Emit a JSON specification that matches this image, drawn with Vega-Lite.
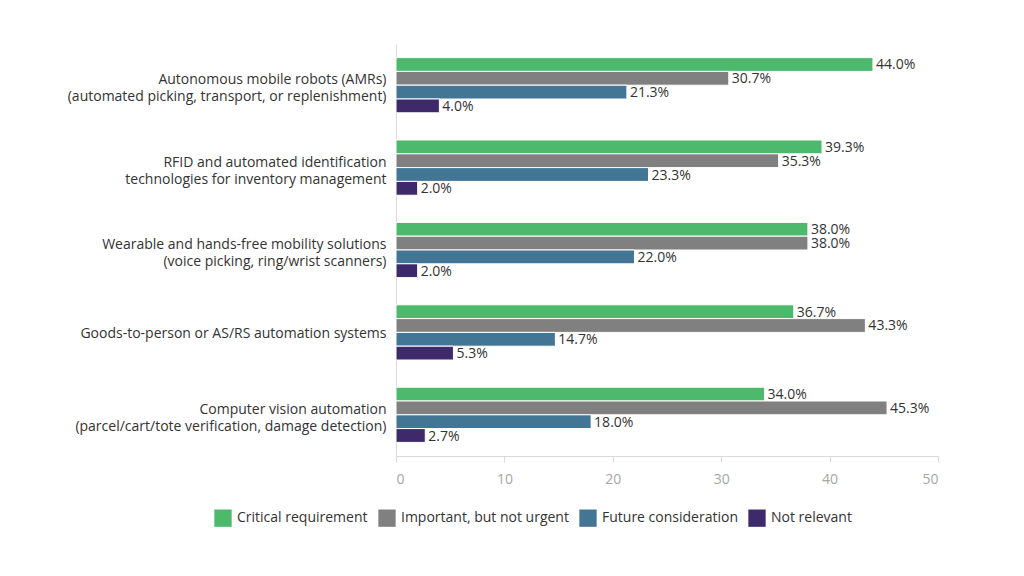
{
  "$schema": "https://vega.github.io/schema/vega-lite/v6.json",
  "autosize": {"type": "none"},
  "width": 542,
  "height": 412,
  "padding": {"left": 396, "top": 44, "right": 86, "bottom": 120},
  "background": "white",
  "config": {
    "font": "Open Sans",
    "view": {"stroke": null}
  },
  "data": {
    "values": [
      {"category": "Autonomous mobile robots (AMRs)|(automated picking, transport, or replenishment)", "series": "Critical requirement", "value": 44.0},
      {"category": "Autonomous mobile robots (AMRs)|(automated picking, transport, or replenishment)", "series": "Important, but not urgent", "value": 30.7},
      {"category": "Autonomous mobile robots (AMRs)|(automated picking, transport, or replenishment)", "series": "Future consideration", "value": 21.3},
      {"category": "Autonomous mobile robots (AMRs)|(automated picking, transport, or replenishment)", "series": "Not relevant", "value": 4.0},
      {"category": "RFID and automated identification |technologies for inventory management", "series": "Critical requirement", "value": 39.3},
      {"category": "RFID and automated identification |technologies for inventory management", "series": "Important, but not urgent", "value": 35.3},
      {"category": "RFID and automated identification |technologies for inventory management", "series": "Future consideration", "value": 23.3},
      {"category": "RFID and automated identification |technologies for inventory management", "series": "Not relevant", "value": 2.0},
      {"category": "Wearable and hands-free mobility solutions |(voice picking, ring/wrist scanners)", "series": "Critical requirement", "value": 38.0},
      {"category": "Wearable and hands-free mobility solutions |(voice picking, ring/wrist scanners)", "series": "Important, but not urgent", "value": 38.0},
      {"category": "Wearable and hands-free mobility solutions |(voice picking, ring/wrist scanners)", "series": "Future consideration", "value": 22.0},
      {"category": "Wearable and hands-free mobility solutions |(voice picking, ring/wrist scanners)", "series": "Not relevant", "value": 2.0},
      {"category": "Goods-to-person or AS/RS automation systems", "series": "Critical requirement", "value": 36.7},
      {"category": "Goods-to-person or AS/RS automation systems", "series": "Important, but not urgent", "value": 43.3},
      {"category": "Goods-to-person or AS/RS automation systems", "series": "Future consideration", "value": 14.7},
      {"category": "Goods-to-person or AS/RS automation systems", "series": "Not relevant", "value": 5.3},
      {"category": "Computer vision automation |(parcel/cart/tote verification, damage detection)", "series": "Critical requirement", "value": 34.0},
      {"category": "Computer vision automation |(parcel/cart/tote verification, damage detection)", "series": "Important, but not urgent", "value": 45.3},
      {"category": "Computer vision automation |(parcel/cart/tote verification, damage detection)", "series": "Future consideration", "value": 18.0},
      {"category": "Computer vision automation |(parcel/cart/tote verification, damage detection)", "series": "Not relevant", "value": 2.7}
    ]
  },
  "encoding": {
    "y": {
      "field": "category",
      "type": "nominal",
      "sort": null,
      "scale": {"paddingInner": 0.33, "paddingOuter": 0.165},
      "axis": {
        "title": null,
        "ticks": false,
        "labelExpr": "split(datum.label, '|')",
        "labelOffset": {
          "condition": {"test": "indexof(datum.value, '|') >= 0", "value": -5},
          "value": 2
        },
        "labelFontSize": 14,
        "labelColor": "#333333",
        "labelPadding": 10,
        "labelLineHeight": 17,
        "labelLimit": 400,
        "domainColor": "#d9d9d9"
      }
    },
    "yOffset": {
      "field": "series",
      "type": "nominal",
      "sort": ["Critical requirement", "Important, but not urgent", "Future consideration", "Not relevant"]
    },
    "x": {
      "field": "value",
      "type": "quantitative",
      "scale": {"domain": [0, 50], "nice": false},
      "axis": {
        "title": null,
        "grid": false,
        "values": [0, 10, 20, 30, 40, 50],
        "labelFontSize": 14,
        "labelColor": "#a6a6a6",
        "labelPadding": 10,
        "tickSize": 6,
        "tickColor": "#d9d9d9",
        "domainColor": "#d9d9d9"
      }
    }
  },
  "layer": [
    {
      "mark": {"type": "bar", "stroke": "white", "strokeWidth": 1},
      "encoding": {
        "color": {
          "field": "series",
          "type": "nominal",
          "sort": ["Critical requirement", "Important, but not urgent", "Future consideration", "Not relevant"],
          "scale": {
            "domain": ["Critical requirement", "Important, but not urgent", "Future consideration", "Not relevant"],
            "range": ["#4db96c", "#808080", "#437594", "#3e2a6a"]
          },
          "legend": {
            "title": null,
            "orient": "none",
            "direction": "horizontal",
            "legendX": -182,
            "legendY": 465,
            "symbolType": "square",
            "symbolSize": 300,
            "symbolStrokeWidth": 0,
            "labelFontSize": 14,
            "labelLimit": 400,
            "labelColor": "#333333",
            "columnPadding": 10,
            "labelOffset": 5
          }
        }
      }
    },
    {
      "mark": {
        "type": "text",
        "align": "left",
        "baseline": "middle",
        "dx": 3,
        "dy": 1,
        "fontSize": 14,
        "color": "#333333",
        "text": {"expr": "format(datum.value, '.1f') + '%'"}
      }
    }
  ]
}
